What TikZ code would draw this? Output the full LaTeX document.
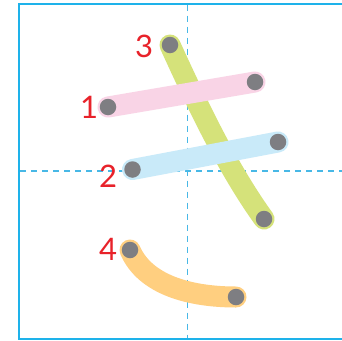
\documentclass[tikz,border=0pt]{standalone}
\usepackage{fontspec}
\setmainfont{Lato}
\definecolor{framec}{HTML}{1EB2EA}
\definecolor{dashc}{HTML}{48B8E6}
\definecolor{pinkc}{HTML}{F9D4E6}
\definecolor{greenc}{HTML}{D5E27A}
\definecolor{bluec}{HTML}{C9EAF9}
\definecolor{orangec}{HTML}{FFCF80}
\definecolor{dotc}{HTML}{7E7E82}
\definecolor{redc}{HTML}{E8222A}
\tikzset{
  strokeband/.style={line width=21pt, line cap=round},
  dotmark/.style={circle, fill=dotc, inner sep=0pt, minimum size=16.5pt},
  numlabel/.style={text=redc, font=\fontsize{31}{31}\selectfont, inner sep=0pt},
  guide/.style={dashc, line width=1.5pt, dash pattern=on 6pt off 5pt},
}
\begin{document}
\begin{tikzpicture}[x=1pt,y=-1pt]
\useasboundingbox (0,0) rectangle (342,340);
\fill[white] (0,0) rectangle (342,340);
% frame
\draw[framec, line width=2pt] (19,3.5) rectangle (350,339);
% guides
\coordinate (vtop) at (187.5,4.5);
\coordinate (vbot) at (187.5,338);
\coordinate (hleft) at (20,171);
\coordinate (hright) at (342,171);
\draw[guide] (vtop) -- (vbot);
\draw[guide] (hleft) -- (hright);
% endpoints
\coordinate (s1a) at (108,107);
\coordinate (s1b) at (255,82);
\coordinate (s2a) at (132.5,169.5);
\coordinate (s2b) at (278,142);
\coordinate (s3a) at (170,45);
\coordinate (s3b) at (264,219);
\coordinate (s4a) at (130,250);
\coordinate (s4b) at (236,297);
% strokes
\draw[strokeband, greenc] (s3a) .. controls (193,95) and (225,165) .. (s3b);
\draw[strokeband, pinkc] (s1a) -- (s1b);
\draw[strokeband, bluec] (s2a) -- (s2b);
\draw[strokeband, orangec] (s4a) .. controls (145,285) and (190,297) .. (s4b);
% dots
\foreach \p in {s1a,s1b,s2a,s2b,s3a,s3b,s4a,s4b}
  \node[dotmark] at (\p) {};
% labels
\node[numlabel] (n1) at (89,107) {1};
\node[numlabel] (n2) at (108,176) {2};
\node[numlabel] (n3) at (144,46) {3};
\node[numlabel] (n4) at (108,249) {4};
\end{tikzpicture}
\end{document}
